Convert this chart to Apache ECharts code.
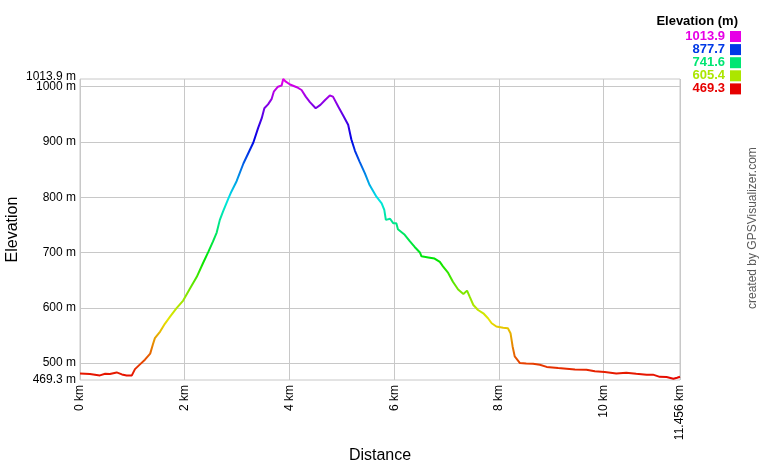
<!DOCTYPE html>
<html>
<head>
<meta charset="utf-8">
<script src="https://cdn.jsdelivr.net/npm/echarts@6/dist/echarts.min.js"></script>
<style>
html,body{margin:0;padding:0;background:#fff;}
#chart{width:760px;height:460px;}
</style>
</head>
<body>
<div id="chart"></div>
<script>
// Distance (km) and elevation (m) read from the profile
var distances = [0.00,0.19,0.38,0.48,0.57,0.70,0.80,0.89,0.99,1.05,1.15,1.24,1.34,1.39,1.43,1.53,1.62,1.72,1.84,1.97,2.10,2.23,2.35,2.45,2.54,2.61,2.67,2.73,2.83,2.89,2.99,3.12,3.24,3.31,3.40,3.47,3.52,3.59,3.66,3.70,3.78,3.85,3.88,3.93,4.01,4.14,4.23,4.31,4.39,4.50,4.59,4.68,4.77,4.83,4.93,5.03,5.12,5.18,5.25,5.34,5.44,5.53,5.66,5.76,5.81,5.84,5.92,5.98,6.04,6.07,6.20,6.30,6.39,6.49,6.52,6.65,6.77,6.87,6.93,7.03,7.12,7.22,7.32,7.39,7.44,7.51,7.60,7.70,7.79,7.86,7.95,8.08,8.17,8.22,8.26,8.30,8.40,8.52,8.65,8.78,8.91,9.13,9.45,9.67,9.83,10.02,10.24,10.43,10.62,10.82,10.94,11.07,11.20,11.33,11.36,11.40,11.456];
var elevations = [481,480,477.6,480.5,480,483,479.4,477.6,477.6,489,498,506,517,533,545,557,571,584,599,613,635,656,681,701,720,736,759,774,797,810,829,861,885,899,925,943,961,968,978,991,1000,1002,1013.9,1009,1004,999,994,982,972,961,967,976,984,982,964,947,931,905,884,864,843,822,801,789,777,759,761,753,753,742,732,720,710,700,693,691,689,683,675,663,647,633,625,631,620,605,596,590,581,572,566,564,563,554,530,512,500,499,498.7,497,493,491,488.4,488,485,483.7,481.2,482.5,480.7,479,479,475,474.7,471.6,469.3,473.4,475.2];

var elevMin = 469.3, elevMax = 1013.9;
var distMax = 11.456;
var yTickValues = [500, 600, 700, 800, 900, 1000];
var yEndValues = [469.3, 1013.9];
var xTickValues = [0, 2, 4, 6, 8, 10, 11.456];

var legendValues = ['1013.9', '877.7', '741.6', '605.4', '469.3'];
var legendColors = ['#e600e6', '#0039e6', '#00e673', '#ace600', '#e60000'];
var rampColors = ['#e60000','#e67300','#e6e600','#73e600','#00e600','#00e673','#00e6e6','#0073e6','#0000e6','#7300e6','#e600e6'];

var points = distances.map(function (d, i) { return [d, elevations[i]]; });

var FONT = 'Liberation Sans, Arial, sans-serif';
var graphics = [
  { type: 'text', x: 738, y: 21.5, style: { text: 'Elevation (m)', font: 'bold 13px ' + FONT, fill: '#000', textAlign: 'right', textVerticalAlign: 'middle' } }
];
legendValues.forEach(function (v, i) {
  graphics.push({ type: 'text', x: 725, y: 36.5 + i * 13.1, style: { text: v, font: 'bold 13px ' + FONT, fill: legendColors[i], textAlign: 'right', textVerticalAlign: 'middle' } });
  graphics.push({ type: 'rect', x: 730, y: 31 + i * 13.1, shape: { width: 11, height: 11 }, style: { fill: legendColors[i] } });
});
graphics.push({ type: 'text', x: 753, y: 309, rotation: Math.PI / 2, style: { text: 'created by GPSVisualizer.com', font: '12px ' + FONT, fill: '#5a5a5a', textAlign: 'left', textVerticalAlign: 'middle' } });

var yLabelBase = { margin: 4, fontFamily: FONT, fontSize: 12, color: '#000', hideOverlap: false };

var chart = echarts.init(document.getElementById('chart'));
chart.setOption({
  animation: false,
  backgroundColor: '#fff',
  grid: { left: 80, right: 80, top: 79, bottom: 80, show: true, borderColor: '#c8c8c8', borderWidth: 1, containLabel: false, outerBoundsMode: 'none' },
  xAxis: {
    type: 'value', min: 0, max: distMax,
    name: 'Distance', nameLocation: 'middle', nameGap: 58,
    nameTextStyle: { fontFamily: FONT, fontSize: 16, color: '#000' },
    axisLine: { show: false }, axisTick: { show: false, customValues: xTickValues },
    axisLabel: { customValues: xTickValues, rotate: 90, margin: 5, fontFamily: FONT, fontSize: 12, color: '#000',
      showMinLabel: true, showMaxLabel: true, hideOverlap: false,
      formatter: function (v) { return v + ' km'; } },
    splitLine: { show: true, lineStyle: { color: '#c8c8c8', width: 1 } }
  },
  yAxis: [{
    type: 'value', min: elevMin, max: elevMax, position: 'left',
    name: 'Elevation', nameLocation: 'middle', nameGap: 59,
    nameTextStyle: { fontFamily: FONT, fontSize: 16, color: '#000' },
    axisLine: { show: false }, axisTick: { show: false, customValues: yTickValues },
    axisLabel: Object.assign({ customValues: yTickValues, formatter: function (v) { return v + ' m'; } }, yLabelBase),
    splitLine: { show: true, lineStyle: { color: '#c8c8c8', width: 1 } }
  }, {
    type: 'value', min: elevMin, max: elevMax, position: 'left', offset: 0,
    axisLine: { show: false }, axisTick: { show: false, customValues: yEndValues },
    axisLabel: Object.assign({ customValues: yEndValues, showMinLabel: true, showMaxLabel: true,
      formatter: function (v) { return v === elevMax ? '{t|' + v + ' m}' : v + ' m'; },
      rich: { t: { fontFamily: FONT, fontSize: 12, color: '#000', padding: [0, 0, 5, 0] } } }, yLabelBase),
    splitLine: { show: false }
  }],
  visualMap: { show: false, type: 'continuous', seriesIndex: 0, dimension: 1, min: elevMin, max: elevMax, inRange: { color: rampColors } },
  graphic: graphics,
  series: [{
    type: 'line', data: points, yAxisIndex: 0, showSymbol: false, symbol: 'none',
    lineStyle: { width: 2 }
  }]
});
</script>
</body>
</html>
